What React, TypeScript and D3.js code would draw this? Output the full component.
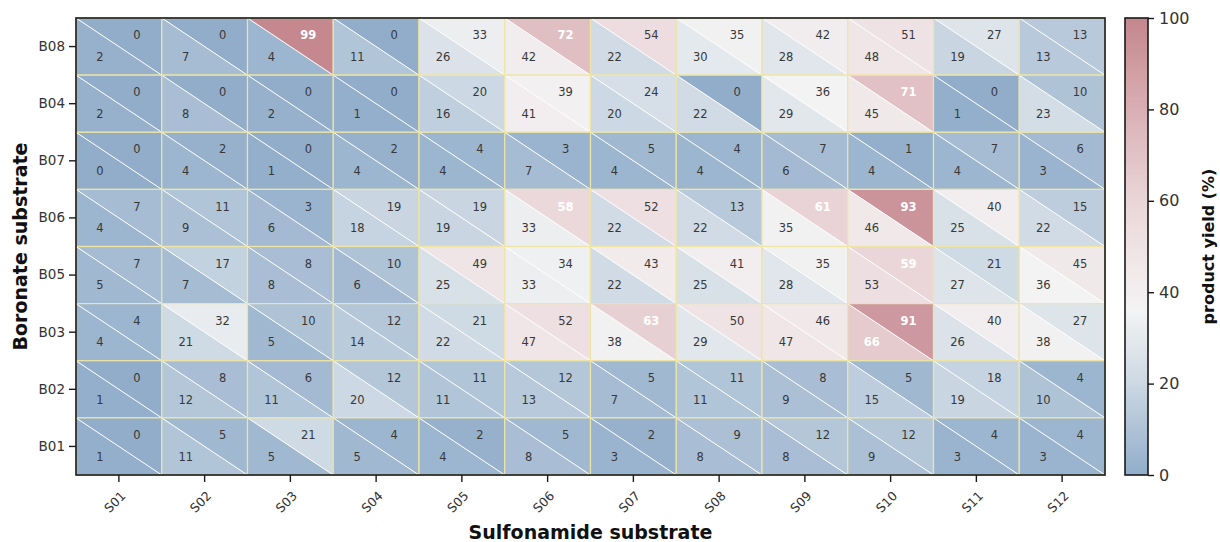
import React, { useEffect, useRef } from "react";
import * as d3 from "d3";

const sulfonamides = ["S01", "S02", "S03", "S04", "S05", "S06", "S07", "S08", "S09", "S10", "S11", "S12"];
const boronates = ["B08", "B04", "B07", "B06", "B05", "B03", "B02", "B01"];

// upper-right triangle values, one row per boronate (top to bottom)
const upperYields = [
  [0, 0, 99, 0, 33, 72, 54, 35, 42, 51, 27, 13],
  [0, 0, 0, 0, 20, 39, 24, 0, 36, 71, 0, 10],
  [0, 2, 0, 2, 4, 3, 5, 4, 7, 1, 7, 6],
  [7, 11, 3, 19, 19, 58, 52, 13, 61, 93, 40, 15],
  [7, 17, 8, 10, 49, 34, 43, 41, 35, 59, 21, 45],
  [4, 32, 10, 12, 21, 52, 63, 50, 46, 91, 40, 27],
  [0, 8, 6, 12, 11, 12, 5, 11, 8, 5, 18, 4],
  [0, 5, 21, 4, 2, 5, 2, 9, 12, 12, 4, 4],
];

// lower-left triangle values
const lowerYields = [
  [2, 7, 4, 11, 26, 42, 22, 30, 28, 48, 19, 13],
  [2, 8, 2, 1, 16, 41, 20, 22, 29, 45, 1, 23],
  [0, 4, 1, 4, 4, 7, 4, 4, 6, 4, 4, 3],
  [4, 9, 6, 18, 19, 33, 22, 22, 35, 46, 25, 22],
  [5, 7, 8, 6, 25, 33, 22, 25, 28, 53, 27, 36],
  [4, 21, 5, 14, 22, 47, 38, 29, 47, 66, 26, 38],
  [1, 12, 11, 20, 11, 13, 7, 11, 9, 15, 19, 10],
  [1, 11, 5, 5, 4, 8, 3, 8, 8, 9, 3, 3],
];

const colorbarTicks = [0, 20, 40, 60, 80, 100];

const FONT = "DejaVu Sans, sans-serif";

export default function App() {
  const svgRef = useRef<SVGSVGElement>(null);

  useEffect(() => {
    const width = 1220;
    const height = 542;
    const margin = { top: 18, right: 115, bottom: 67, left: 76 };
    const plotW = width - margin.left - margin.right;
    const plotH = height - margin.top - margin.bottom;

    const svg = d3.select(svgRef.current).attr("width", width).attr("height", height);
    svg.selectAll("*").remove();

    const color = d3
      .scaleLinear<string>()
      .domain([0, 20, 36, 50, 62, 80, 100])
      .range(["#91adca", "#ccd8e3", "#f3f3f3", "#efe3e5", "#e8d2d5", "#d9afb4", "#c4868d"])
      .interpolate(d3.interpolateRgb)
      .clamp(true);

    const x = d3.scaleBand().domain(sulfonamides).range([0, plotW]);
    const y = d3.scaleBand().domain(boronates).range([0, plotH]);
    const bw = x.bandwidth();
    const bh = y.bandwidth();

    const g = svg.append("g").attr("transform", `translate(${margin.left},${margin.top})`);

    const cells = boronates.flatMap((b, i) =>
      sulfonamides.map((s, j) => ({ b, s, up: upperYields[i][j], lo: lowerYields[i][j] }))
    );

    const cell = g
      .selectAll("g.cell")
      .data(cells)
      .enter()
      .append("g")
      .attr("class", "cell")
      .attr("transform", (d) => `translate(${x(d.s)},${y(d.b)})`);

    // upper-right triangle
    cell
      .append("path")
      .attr("d", `M0,0L${bw},0L${bw},${bh}Z`)
      .attr("fill", (d) => color(d.up));

    // lower-left triangle
    cell
      .append("path")
      .attr("d", `M0,0L${bw},${bh}L0,${bh}Z`)
      .attr("fill", (d) => color(d.lo));

    cell
      .append("line")
      .attr("x1", 0)
      .attr("y1", 0)
      .attr("x2", bw)
      .attr("y2", bh)
      .attr("stroke", "#ffffff")
      .attr("stroke-width", 1);

    cell
      .append("rect")
      .attr("width", bw)
      .attr("height", bh)
      .attr("fill", "none")
      .attr("stroke", "#eee5a4")
      .attr("stroke-width", 1.2);

    const label = (sel, key: "up" | "lo", fx: number, fy: number) =>
      sel
        .append("text")
        .attr("x", bw * fx)
        .attr("y", bh * fy)
        .attr("dy", "0.35em")
        .attr("text-anchor", "middle")
        .attr("font-family", FONT)
        .attr("font-size", 11.5)
        .attr("font-weight", (d) => (d[key] > 55 ? "bold" : "normal"))
        .attr("fill", (d) => (d[key] > 55 ? "#ffffff" : "#383838"))
        .text((d) => d[key]);

    label(cell, "up", 0.71, 0.3);
    label(cell, "lo", 0.28, 0.68);

    // frame
    g.append("rect")
      .attr("width", plotW)
      .attr("height", plotH)
      .attr("fill", "none")
      .attr("stroke", "#1a1a1a")
      .attr("stroke-width", 1.6);

    // x axis
    const xAxis = g
      .append("g")
      .attr("transform", `translate(0,${plotH})`)
      .call(d3.axisBottom(x).tickSize(7).tickSizeOuter(0));
    xAxis.select(".domain").remove();
    xAxis.selectAll("line").attr("stroke", "#1a1a1a").attr("stroke-width", 1.4);
    xAxis
      .selectAll("text")
      .attr("font-family", FONT)
      .attr("font-size", 12.5)
      .attr("fill", "#333")
      .attr("text-anchor", "middle")
      .attr("y", 0)
      .attr("dy", "0.35em")
      .attr("transform", "translate(-4,27) rotate(-45)");

    // y axis
    const yAxis = g.append("g").call(d3.axisLeft(y).tickSize(7).tickSizeOuter(0));
    yAxis.select(".domain").remove();
    yAxis.selectAll("line").attr("stroke", "#1a1a1a").attr("stroke-width", 1.4);
    yAxis
      .selectAll("text")
      .attr("font-family", FONT)
      .attr("font-size", 13.5)
      .attr("fill", "#333")
      .attr("x", -11);

    // axis titles
    svg
      .append("text")
      .attr("x", margin.left + plotW / 2)
      .attr("y", 539)
      .attr("text-anchor", "middle")
      .attr("font-family", FONT)
      .attr("font-weight", "bold")
      .attr("font-size", 19)
      .attr("fill", "#111")
      .text("Sulfonamide substrate");

    svg
      .append("text")
      .attr("transform", `translate(27,${margin.top + plotH / 2}) rotate(-90)`)
      .attr("text-anchor", "middle")
      .attr("font-family", FONT)
      .attr("font-weight", "bold")
      .attr("font-size", 19)
      .attr("fill", "#111")
      .text("Boronate substrate");

    // colorbar
    const cbX = 1125;
    const cbW = 23;
    const cbScale = d3.scaleLinear().domain([0, 100]).range([margin.top + plotH, margin.top]);

    const defs = svg.append("defs");
    const grad = defs
      .append("linearGradient")
      .attr("id", "cbgrad")
      .attr("x1", 0)
      .attr("y1", 1)
      .attr("x2", 0)
      .attr("y2", 0);
    d3.range(0, 101, 4).forEach((v) => {
      grad.append("stop").attr("offset", `${v}%`).attr("stop-color", color(v));
    });

    svg
      .append("rect")
      .attr("x", cbX)
      .attr("y", margin.top)
      .attr("width", cbW)
      .attr("height", plotH)
      .attr("fill", "url(#cbgrad)")
      .attr("stroke", "#1a1a1a")
      .attr("stroke-width", 1.6);

    const cbAxis = svg
      .append("g")
      .attr("transform", `translate(${cbX + cbW},0)`)
      .call(d3.axisRight(cbScale).tickValues(colorbarTicks).tickSize(6).tickSizeOuter(0));
    cbAxis.select(".domain").remove();
    cbAxis.selectAll("line").attr("stroke", "#1a1a1a").attr("stroke-width", 1.4);
    cbAxis
      .selectAll("text")
      .attr("font-family", FONT)
      .attr("font-size", 16)
      .attr("fill", "#333")
      .attr("x", 11);

    svg
      .append("text")
      .attr("transform", `translate(1208,${margin.top + plotH / 2}) rotate(-90)`)
      .attr("text-anchor", "middle")
      .attr("dy", "0.35em")
      .attr("font-family", FONT)
      .attr("font-weight", "bold")
      .attr("font-size", 16)
      .attr("fill", "#111")
      .text("product yield (%)");
  }, []);

  return (
    <svg
      ref={svgRef}
      style={{ position: "absolute", left: 0, top: 0, background: "#ffffff" }}
    />
  );
}
